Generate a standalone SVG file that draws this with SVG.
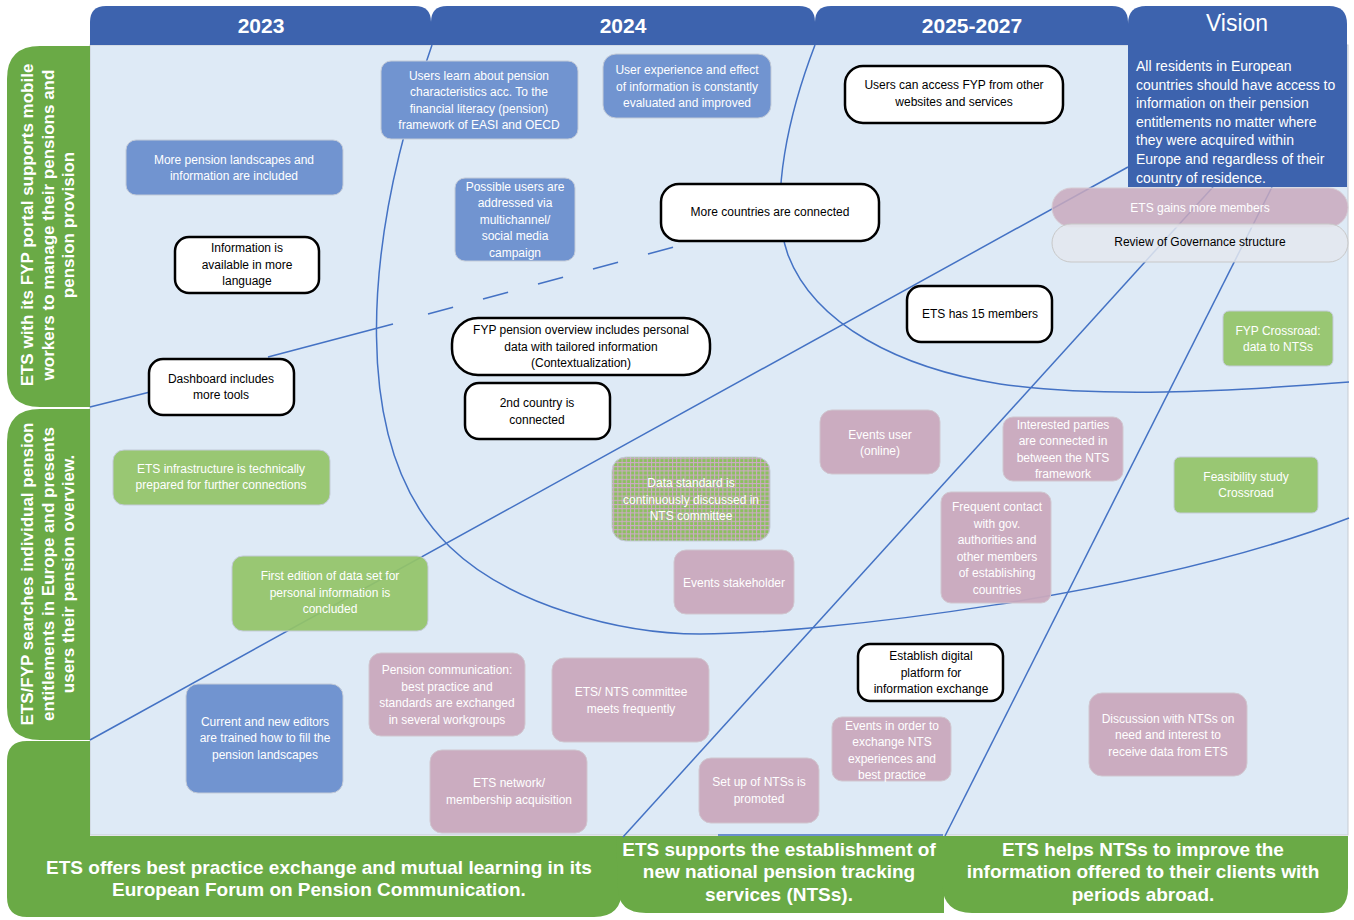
<svg xmlns="http://www.w3.org/2000/svg" width="1354" height="920" viewBox="0 0 1354 920">
<defs>
<pattern id="grid" width="4.2" height="4.2" patternUnits="userSpaceOnUse">
<rect width="4.2" height="4.2" fill="#8cc060"/>
<path d="M0,0.5H4.2M0.5,0V4.2" stroke="#cfa9c8" stroke-width="1"/>
</pattern>
</defs>
<style>
text{font-family:"Liberation Sans",Arial,sans-serif}
.t{font-size:12px;text-anchor:middle}
.w{fill:#ffffff}
.k{fill:#000000}
.blue{fill:#7194d0;stroke:#c3cbd8;stroke-width:1}
.green{fill:#93c468;stroke:#c3cbd8;stroke-width:1;fill-opacity:0.93}
.pink{fill:#c9a9bd;stroke:#d0c6cf;stroke-width:1;fill-opacity:0.95}
.white{fill:#ffffff;stroke:#000000;stroke-width:2.5}
.hdr{fill:#3d63ae}
.bar{fill:#6aaa46}
.ht{font-size:21px;font-weight:bold;fill:#ffffff;text-anchor:middle}
.lt{font-size:17px;font-weight:bold;fill:#ffffff;text-anchor:middle}
.bt{font-size:19px;font-weight:bold;fill:#ffffff;text-anchor:middle}
.ln{fill:none;stroke:#4472c4;stroke-width:1.5}
</style>

<!-- main panel -->
<rect x="90" y="45" width="1258" height="790" fill="#deeaf6" stroke="#c7ccd3" stroke-width="1"/>

<!-- headers -->
<g id="h2023"><path class="hdr" d="M90,45V22Q90,6 106,6H415Q431,6 431,22V45Z"/><text class="ht" x="261" y="33">2023</text></g>
<g id="h2024"><path class="hdr" d="M431,45V22Q431,6 447,6H799Q815,6 815,22V45Z"/><text class="ht" x="623" y="33">2024</text></g>
<g id="h2025"><path class="hdr" d="M815,45V22Q815,6 831,6H1112Q1128,6 1128,22V45Z"/><text class="ht" x="972" y="33">2025-2027</text></g>

<!-- left bars -->
<g id="bar-left1"><path class="bar" d="M90,46V407H40Q7,407 7,374V79Q7,46 40,46Z"/>
<text class="lt" transform="rotate(-90)"><tspan x="-225" y="33">ETS with its FYP portal supports mobile</tspan><tspan x="-225" y="54">workers to manage their pensions and</tspan><tspan x="-225" y="74">pension provision</tspan></text></g>
<g id="bar-left2"><path class="bar" d="M90,409V740H40Q7,740 7,707V442Q7,409 40,409Z"/>
<text class="lt" transform="rotate(-90)"><tspan x="-574" y="33">ETS/FYP searches individual pension</tspan><tspan x="-574" y="54">entitlements in Europe and presents</tspan><tspan x="-574" y="74">users their pension overview.</tspan></text></g>

<!-- bottom bars -->
<g id="bar-bottom1"><path class="bar" d="M90,741V836H622V889Q622,917 594,917H27Q7,917 7,897V761Q7,741 27,741Z"/>
<text class="bt"><tspan x="319" y="874">ETS offers best practice exchange and mutual learning in its</tspan><tspan x="319" y="896">European Forum on Pension Communication.</tspan></text></g>
<g id="bar-bottom2"><path class="bar" d="M616,836H944V913H646Q618,913 618,888Z"/>
<text class="bt"><tspan x="779" y="856">ETS supports the establishment of</tspan><tspan x="779" y="878">new national pension tracking</tspan><tspan x="779" y="901">services (NTSs).</tspan></text></g>
<g id="bar-bottom3"><path class="bar" d="M942,836H1348V888Q1348,913 1323,913H972Q944,913 942,886Z"/>
<text class="bt"><tspan x="1143" y="856">ETS helps NTSs to improve the</tspan><tspan x="1143" y="878">information offered to their clients with</tspan><tspan x="1143" y="901">periods abroad.</tspan></text></g>

<!-- connectors -->
<g id="connectors">
<path class="ln" d="M90,407L150,392"/>
<path class="ln" d="M268,357L393,324"/>
<path class="ln" d="M428,314L692,242" stroke-dasharray="26 31"/>
<path class="ln" d="M90,740L1128,167"/>
<path class="ln" d="M432,45C360,250 350,450 450,547C510,605 620,634 700,634C820,634 1150,595 1349,518"/>
<path class="ln" d="M815,45C790,110 768,200 788,255C815,325 900,368 1000,384C1100,398 1220,392 1349,382"/>
<path class="ln" d="M1213,187L623,837"/>
<path class="ln" d="M1272,187L945,836"/>
<path class="ln" d="M718,835H943"/>
</g>

<!-- vision -->
<g id="vision"><path class="hdr" d="M1128,187V24Q1128,6 1146,6H1329Q1347,6 1347,24V187Z"/>
<text x="1237" y="31" style="font-size:23px;fill:#fff;text-anchor:middle">Vision</text>
<text style="font-size:14px;fill:#fff"><tspan x="1136" y="71">All residents in European</tspan><tspan x="1136" y="90">countries should have access to</tspan><tspan x="1136" y="108">information on their pension</tspan><tspan x="1136" y="127">entitlements no matter where</tspan><tspan x="1136" y="145">they were acquired within</tspan><tspan x="1136" y="164">Europe and regardless of their</tspan><tspan x="1136" y="183">country of residence.</tspan></text></g>

<g id="n-gains"><rect x="1052" y="188" width="296" height="39" rx="19.5" fill="#c9a9bd" fill-opacity="0.85" stroke="#d6cbd3"/><text class="t w" x="1200" y="212">ETS gains more members</text></g>
<g id="n-review"><rect x="1052" y="224" width="296" height="38" rx="19" fill="#e4e8ee" fill-opacity="0.85" stroke="#c8c8c8"/><text class="t k" x="1200" y="246">Review of Governance structure</text></g>

<!-- blue nodes -->
<g id="n-landscapes"><rect class="blue" x="126" y="140" width="217" height="55" rx="10"/><text class="t w"><tspan x="234" y="164">More pension landscapes and</tspan><tspan x="234" y="180">information are included</tspan></text></g>
<g id="n-learn"><rect class="blue" x="381" y="61" width="197" height="78" rx="10"/><text class="t w"><tspan x="479" y="80">Users learn about pension</tspan><tspan x="479" y="96">characteristics acc. To the</tspan><tspan x="479" y="113">financial literacy (pension)</tspan><tspan x="479" y="129">framework of EASI and OECD</tspan></text></g>
<g id="n-ux"><rect class="blue" x="603" y="54" width="168" height="64" rx="13"/><text class="t w"><tspan x="687" y="74">User experience and effect</tspan><tspan x="687" y="91">of information is constantly</tspan><tspan x="687" y="107">evaluated and improved</tspan></text></g>
<g id="n-possible"><rect class="blue" x="455" y="178" width="120" height="83" rx="10"/><text class="t w"><tspan x="515" y="191">Possible users are</tspan><tspan x="515" y="207">addressed via</tspan><tspan x="515" y="224">multichannel/</tspan><tspan x="515" y="240">social media</tspan><tspan x="515" y="257">campaign</tspan></text></g>
<g id="n-editors"><rect class="blue" x="186" y="684" width="157" height="109" rx="12"/><text class="t w"><tspan x="265" y="726">Current and new editors</tspan><tspan x="265" y="742">are trained how to fill the</tspan><tspan x="265" y="759">pension landscapes</tspan></text></g>

<!-- white nodes -->
<g id="n-access"><rect class="white" x="845" y="66" width="218" height="57" rx="18"/><text class="t k"><tspan x="954" y="89">Users can access FYP from other</tspan><tspan x="954" y="106">websites and services</tspan></text></g>
<g id="n-language"><rect class="white" x="175" y="237" width="144" height="56" rx="14"/><text class="t k"><tspan x="247" y="252">Information is</tspan><tspan x="247" y="269">available in more</tspan><tspan x="247" y="285">language</tspan></text></g>
<g id="n-more-countries"><rect class="white" x="661" y="184" width="218" height="57" rx="18"/><text class="t k" x="770" y="216">More countries are connected</text></g>
<g id="n-15"><rect class="white" x="907" y="286" width="145" height="56" rx="14"/><text class="t k" x="980" y="318">ETS has 15 members</text></g>
<g id="n-dashboard"><rect class="white" x="149" y="359" width="145" height="56" rx="14"/><text class="t k"><tspan x="221" y="383">Dashboard includes</tspan><tspan x="221" y="399">more tools</tspan></text></g>
<g id="n-overview"><rect class="white" x="452" y="318" width="258" height="57" rx="26"/><text class="t k"><tspan x="581" y="334">FYP pension overview includes personal</tspan><tspan x="581" y="351">data with tailored information</tspan><tspan x="581" y="367">(Contextualization)</tspan></text></g>
<g id="n-2nd"><rect class="white" x="465" y="383" width="145" height="56" rx="14"/><text class="t k"><tspan x="537" y="407">2nd country is</tspan><tspan x="537" y="424">connected</tspan></text></g>
<g id="n-platform"><rect class="white" x="858" y="644" width="145" height="57" rx="12"/><text class="t k"><tspan x="931" y="660">Establish digital</tspan><tspan x="931" y="677">platform for</tspan><tspan x="931" y="693">information exchange</tspan></text></g>

<!-- green nodes -->
<g id="n-infra"><rect class="green" x="113" y="450" width="217" height="55" rx="11"/><text class="t w"><tspan x="221" y="473">ETS infrastructure is technically</tspan><tspan x="221" y="489">prepared for further connections</tspan></text></g>
<g id="n-dataset"><rect class="green" x="232" y="556" width="196" height="75" rx="11"/><text class="t w"><tspan x="330" y="580">First edition of data set for</tspan><tspan x="330" y="597">personal information is</tspan><tspan x="330" y="613">concluded</tspan></text></g>
<g id="n-crossroad"><rect class="green" x="1223" y="311" width="110" height="55" rx="6"/><text class="t w"><tspan x="1278" y="335">FYP Crossroad:</tspan><tspan x="1278" y="351">data to NTSs</tspan></text></g>
<g id="n-feasibility"><rect class="green" x="1174" y="457" width="144" height="56" rx="6"/><text class="t w"><tspan x="1246" y="481">Feasibility study</tspan><tspan x="1246" y="497">Crossroad</tspan></text></g>
<g id="n-datastandard"><rect x="612" y="457" width="158" height="84" rx="14" fill="url(#grid)" stroke="#c3cbd8"/><text class="t w"><tspan x="691" y="487">Data standard is</tspan><tspan x="691" y="504">continuously discussed in</tspan><tspan x="691" y="520">NTS committee</tspan></text></g>

<!-- pink nodes -->
<g id="n-events-user"><rect class="pink" x="820" y="410" width="120" height="64" rx="12"/><text class="t w"><tspan x="880" y="439">Events user</tspan><tspan x="880" y="455">(online)</tspan></text></g>
<g id="n-interested"><rect class="pink" x="1003" y="417" width="120" height="64" rx="10"/><text class="t w"><tspan x="1063" y="429">Interested parties</tspan><tspan x="1063" y="445">are connected in</tspan><tspan x="1063" y="462">between the NTS</tspan><tspan x="1063" y="478">framework</tspan></text></g>
<g id="n-frequent"><rect class="pink" x="941" y="492" width="110" height="111" rx="10"/><text class="t w"><tspan x="997" y="511">Frequent contact</tspan><tspan x="997" y="528">with gov.</tspan><tspan x="997" y="544">authorities and</tspan><tspan x="997" y="561">other members</tspan><tspan x="997" y="577">of establishing</tspan><tspan x="997" y="594">countries</tspan></text></g>
<g id="n-events-stake"><rect class="pink" x="674" y="550" width="120" height="64" rx="12"/><text class="t w" x="734" y="587">Events stakeholder</text></g>
<g id="n-pencomm"><rect class="pink" x="369" y="653" width="156" height="83" rx="12"/><text class="t w"><tspan x="447" y="674">Pension communication:</tspan><tspan x="447" y="691">best practice and</tspan><tspan x="447" y="707">standards are exchanged</tspan><tspan x="447" y="724">in several workgroups</tspan></text></g>
<g id="n-committee"><rect class="pink" x="552" y="658" width="157" height="84" rx="12"/><text class="t w"><tspan x="631" y="696">ETS/ NTS committee</tspan><tspan x="631" y="713">meets frequently</tspan></text></g>
<g id="n-network"><rect class="pink" x="430" y="750" width="157" height="83" rx="12"/><text class="t w"><tspan x="509" y="787">ETS network/</tspan><tspan x="509" y="804">membership acquisition</tspan></text></g>
<g id="n-setup"><rect class="pink" x="699" y="758" width="120" height="65" rx="12"/><text class="t w"><tspan x="759" y="786">Set up of NTSs is</tspan><tspan x="759" y="803">promoted</tspan></text></g>
<g id="n-events-nts"><rect class="pink" x="832" y="717" width="119" height="64" rx="10"/><text class="t w"><tspan x="892" y="730">Events in order to</tspan><tspan x="892" y="746">exchange NTS</tspan><tspan x="892" y="763">experiences and</tspan><tspan x="892" y="779">best practice</tspan></text></g>
<g id="n-discussion"><rect class="pink" x="1089" y="693" width="158" height="83" rx="13"/><text class="t w"><tspan x="1168" y="723">Discussion with NTSs on</tspan><tspan x="1168" y="739">need and interest to</tspan><tspan x="1168" y="756">receive data from ETS</tspan></text></g>
</svg>
